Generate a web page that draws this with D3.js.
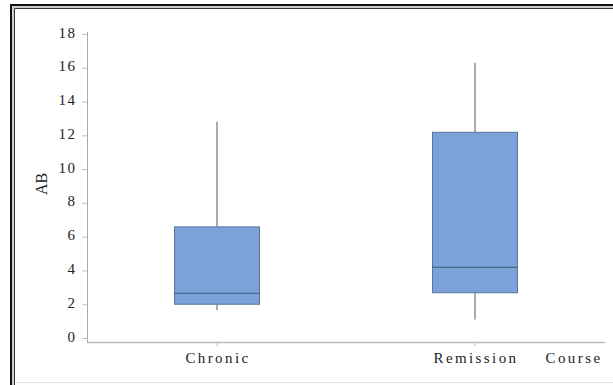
<!DOCTYPE html>
<html>
<head>
<meta charset="utf-8">
<script src="https://cdn.jsdelivr.net/npm/d3@7"></script>
<style>
  html, body { margin: 0; background: #fff; overflow: hidden; }
  svg { display: block; font-family: "Liberation Serif", "Times New Roman", serif; }
</style>
</head>
<body>
<div id="chart"></div>
<script>
var categories = ["Chronic", "Remission"];
var whiskerLow = [1.65, 1.1];
var q1 = [2.0, 2.68];
var median = [2.65, 4.19];
var q3 = [6.58, 12.18];
var whiskerHigh = [12.8, 16.3];
var yTicks = [0, 2, 4, 6, 8, 10, 12, 14, 16, 18];

var width = 613,
    height = 385;

var svg = d3.select('#chart').append('svg')
    .attr('width', width)
    .attr('height', height)
    .style('overflow', 'hidden');

// frame around the figure (left and top edges only are inside the picture)
svg.append('line').attr('x1', 11).attr('x2', 613).attr('y1', 5).attr('y2', 5)
    .attr('stroke', '#111').attr('stroke-width', 2);
svg.append('line').attr('x1', 11).attr('x2', 11).attr('y1', 4).attr('y2', 385)
    .attr('stroke', '#111').attr('stroke-width', 2);
svg.append('line').attr('x1', 13).attr('x2', 613).attr('y1', 7).attr('y2', 7)
    .attr('stroke', '#999').attr('stroke-width', 1);
svg.append('line').attr('x1', 13).attr('x2', 13).attr('y1', 7).attr('y2', 385)
    .attr('stroke', '#999').attr('stroke-width', 1);
svg.append('line').attr('x1', 14.5).attr('x2', 613).attr('y1', 8.5).attr('y2', 8.5)
    .attr('stroke', '#333').attr('stroke-width', 1);
svg.append('line').attr('x1', 14.5).attr('x2', 14.5).attr('y1', 8.5).attr('y2', 385)
    .attr('stroke', '#333').attr('stroke-width', 1);
svg.append('line').attr('x1', 15).attr('x2', 613).attr('y1', 382.5).attr('y2', 382.5)
    .attr('stroke', '#e4e4e4');

var y = d3.scaleLinear().domain([0, 18]).range([338, 34]);
var x = d3.scalePoint().domain(categories).range([217, 475]);

var data = categories.map(function(c, i) {
    return { cat: c, lo: whiskerLow[i], q1: q1[i], med: median[i], q3: q3[i], hi: whiskerHigh[i] };
});

// y axis
var yAxis = svg.append('g')
    .attr('transform', 'translate(87.5,0)')
    .call(d3.axisLeft(y).tickValues(yTicks).tickSize(5).tickPadding(6))
    .attr('font-family', null);
yAxis.select('.domain').attr('stroke', '#aaa').attr('d', 'M0,32V342.5');
yAxis.selectAll('.tick line').attr('stroke', '#bbb');
yAxis.selectAll('.tick text')
    .attr('fill', '#222')
    .style('font-size', '15px')
    .style('letter-spacing', '1.5px')
    .attr('dy', '0.2em');

// x axis
svg.append('line')
    .attr('x1', 87).attr('x2', 605).attr('y1', 342.5).attr('y2', 342.5)
    .attr('stroke', '#bbb').attr('stroke-width', 1.5);
svg.selectAll('.xtick').data(categories).enter().append('line')
    .attr('x1', function(d) { return x(d); }).attr('x2', function(d) { return x(d); })
    .attr('y1', 342).attr('y2', 346)
    .attr('stroke', '#bbb');
svg.selectAll('.xlabel').data(categories).enter().append('text')
    .attr('x', function(d) { return x(d) + 1; })
    .attr('y', 363)
    .attr('text-anchor', 'middle')
    .attr('fill', '#222')
    .style('font-size', '15px')
    .style('letter-spacing', '2.4px')
    .text(function(d) { return d; });
svg.append('text')
    .attr('x', 574).attr('y', 363)
    .attr('text-anchor', 'middle')
    .attr('fill', '#222')
    .style('font-size', '15px')
    .style('letter-spacing', '2.4px')
    .text('Course');

// y title
svg.append('text')
    .attr('transform', 'translate(47,184) rotate(-90)')
    .attr('text-anchor', 'middle')
    .attr('fill', '#222')
    .style('font-size', '16px')
    .text('AB');

// boxes
var half = 42.5;
var g = svg.append('g').selectAll('g').data(data).enter().append('g');
g.append('line')
    .attr('x1', function(d) { return x(d.cat); }).attr('x2', function(d) { return x(d.cat); })
    .attr('y1', function(d) { return y(d.hi); }).attr('y2', function(d) { return y(d.lo); })
    .attr('stroke', '#7f7f7f').attr('stroke-width', 1.3);
g.append('rect')
    .attr('x', function(d) { return x(d.cat) - half; })
    .attr('width', half * 2)
    .attr('y', function(d) { return y(d.q3); })
    .attr('height', function(d) { return y(d.q1) - y(d.q3); })
    .attr('fill', '#7ba3d9')
    .attr('stroke', '#5a7598').attr('stroke-width', 1);
g.append('line')
    .attr('x1', function(d) { return x(d.cat) - half; }).attr('x2', function(d) { return x(d.cat) + half; })
    .attr('y1', function(d) { return y(d.med); }).attr('y2', function(d) { return y(d.med); })
    .attr('stroke', '#3f5672').attr('stroke-width', 1.2);
</script>
</body>
</html>
